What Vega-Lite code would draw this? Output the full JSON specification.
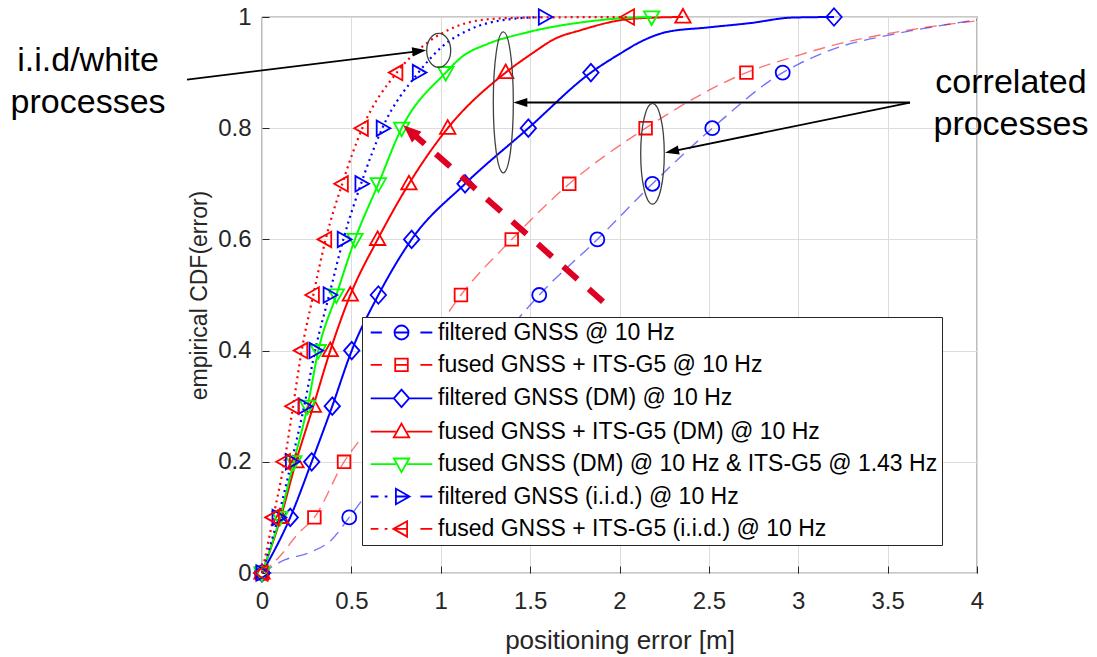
{
  "$schema": "https://vega.github.io/schema/vega-lite/v6.json",
  "width": 715,
  "height": 556,
  "autosize": {"type": "none"},
  "padding": {"left": 262, "top": 17, "right": 120, "bottom": 84},
  "background": "white",
  "config": {
    "view": {"stroke": "#262626", "strokeWidth": 1.2},
    "axis": {
      "labelFont": "Liberation Sans", "labelFontSize": 24, "labelColor": "#262626",
      "titleFont": "Liberation Sans", "titleFontSize": 23, "titleFontWeight": "normal", "titleColor": "#262626",
      "gridColor": "#dcdcdc", "gridWidth": 1, "tickColor": "#262626", "tickSize": -7, "tickWidth": 1,
      "domain": false, "labelFlush": false, "labelOverlap": false
    }
  },
  "datasets": {
    "curves": [
      {"s": "filtered GNSS @ 10 Hz", "x": 0, "y": 0, "m": 1},
      {"s": "filtered GNSS @ 10 Hz", "x": 0.13, "y": 0.024, "m": 0},
      {"s": "filtered GNSS @ 10 Hz", "x": 0.26, "y": 0.036, "m": 0},
      {"s": "filtered GNSS @ 10 Hz", "x": 0.39, "y": 0.06, "m": 0},
      {"s": "filtered GNSS @ 10 Hz", "x": 0.488, "y": 0.1, "m": 1},
      {"s": "filtered GNSS @ 10 Hz", "x": 0.558, "y": 0.13, "m": 0},
      {"s": "filtered GNSS @ 10 Hz", "x": 0.74, "y": 0.2, "m": 1},
      {"s": "filtered GNSS @ 10 Hz", "x": 1.0, "y": 0.3, "m": 1},
      {"s": "filtered GNSS @ 10 Hz", "x": 1.28, "y": 0.4, "m": 1},
      {"s": "filtered GNSS @ 10 Hz", "x": 1.443, "y": 0.461, "m": 0},
      {"s": "filtered GNSS @ 10 Hz", "x": 1.551, "y": 0.5, "m": 1},
      {"s": "filtered GNSS @ 10 Hz", "x": 1.876, "y": 0.6, "m": 1},
      {"s": "filtered GNSS @ 10 Hz", "x": 2.184, "y": 0.7, "m": 1},
      {"s": "filtered GNSS @ 10 Hz", "x": 2.519, "y": 0.8, "m": 1},
      {"s": "filtered GNSS @ 10 Hz", "x": 2.913, "y": 0.9, "m": 1},
      {"s": "filtered GNSS @ 10 Hz", "x": 3.0, "y": 0.915, "m": 0},
      {"s": "filtered GNSS @ 10 Hz", "x": 3.23, "y": 0.946, "m": 0},
      {"s": "filtered GNSS @ 10 Hz", "x": 3.5, "y": 0.967, "m": 0},
      {"s": "filtered GNSS @ 10 Hz", "x": 3.75, "y": 0.982, "m": 0},
      {"s": "filtered GNSS @ 10 Hz", "x": 4.0, "y": 0.995, "m": 0},

      {"s": "fused GNSS + ITS-G5 @ 10 Hz", "x": 0, "y": 0, "m": 1},
      {"s": "fused GNSS + ITS-G5 @ 10 Hz", "x": 0.1, "y": 0.03, "m": 0},
      {"s": "fused GNSS + ITS-G5 @ 10 Hz", "x": 0.2, "y": 0.07, "m": 0},
      {"s": "fused GNSS + ITS-G5 @ 10 Hz", "x": 0.293, "y": 0.1, "m": 1},
      {"s": "fused GNSS + ITS-G5 @ 10 Hz", "x": 0.459, "y": 0.2, "m": 1},
      {"s": "fused GNSS + ITS-G5 @ 10 Hz", "x": 0.56, "y": 0.245, "m": 0},
      {"s": "fused GNSS + ITS-G5 @ 10 Hz", "x": 0.68, "y": 0.3, "m": 1},
      {"s": "fused GNSS + ITS-G5 @ 10 Hz", "x": 0.9, "y": 0.4, "m": 1},
      {"s": "fused GNSS + ITS-G5 @ 10 Hz", "x": 1.113, "y": 0.5, "m": 1},
      {"s": "fused GNSS + ITS-G5 @ 10 Hz", "x": 1.397, "y": 0.6, "m": 1},
      {"s": "fused GNSS + ITS-G5 @ 10 Hz", "x": 1.719, "y": 0.7, "m": 1},
      {"s": "fused GNSS + ITS-G5 @ 10 Hz", "x": 2.146, "y": 0.8, "m": 1},
      {"s": "fused GNSS + ITS-G5 @ 10 Hz", "x": 2.71, "y": 0.9, "m": 1},
      {"s": "fused GNSS + ITS-G5 @ 10 Hz", "x": 3.0, "y": 0.931, "m": 0},
      {"s": "fused GNSS + ITS-G5 @ 10 Hz", "x": 3.23, "y": 0.952, "m": 0},
      {"s": "fused GNSS + ITS-G5 @ 10 Hz", "x": 3.5, "y": 0.97, "m": 0},
      {"s": "fused GNSS + ITS-G5 @ 10 Hz", "x": 3.75, "y": 0.983, "m": 0},
      {"s": "fused GNSS + ITS-G5 @ 10 Hz", "x": 4.0, "y": 0.993, "m": 0},

      {"s": "filtered GNSS (DM) @ 10 Hz", "x": 0, "y": 0, "m": 1},
      {"s": "filtered GNSS (DM) @ 10 Hz", "x": 0.158, "y": 0.1, "m": 1},
      {"s": "filtered GNSS (DM) @ 10 Hz", "x": 0.278, "y": 0.2, "m": 1},
      {"s": "filtered GNSS (DM) @ 10 Hz", "x": 0.393, "y": 0.3, "m": 1},
      {"s": "filtered GNSS (DM) @ 10 Hz", "x": 0.502, "y": 0.4, "m": 1},
      {"s": "filtered GNSS (DM) @ 10 Hz", "x": 0.651, "y": 0.5, "m": 1},
      {"s": "filtered GNSS (DM) @ 10 Hz", "x": 0.837, "y": 0.6, "m": 1},
      {"s": "filtered GNSS (DM) @ 10 Hz", "x": 1.136, "y": 0.7, "m": 1},
      {"s": "filtered GNSS (DM) @ 10 Hz", "x": 1.49, "y": 0.8, "m": 1},
      {"s": "filtered GNSS (DM) @ 10 Hz", "x": 1.84, "y": 0.9, "m": 1},
      {"s": "filtered GNSS (DM) @ 10 Hz", "x": 2.003, "y": 0.934, "m": 0},
      {"s": "filtered GNSS (DM) @ 10 Hz", "x": 2.115, "y": 0.955, "m": 0},
      {"s": "filtered GNSS (DM) @ 10 Hz", "x": 2.264, "y": 0.973, "m": 0},
      {"s": "filtered GNSS (DM) @ 10 Hz", "x": 2.488, "y": 0.981, "m": 0},
      {"s": "filtered GNSS (DM) @ 10 Hz", "x": 2.73, "y": 0.989, "m": 0},
      {"s": "filtered GNSS (DM) @ 10 Hz", "x": 2.97, "y": 0.999, "m": 0},
      {"s": "filtered GNSS (DM) @ 10 Hz", "x": 3.2, "y": 1.0, "m": 1},

      {"s": "fused GNSS + ITS-G5 (DM) @ 10 Hz", "x": 0, "y": 0, "m": 1},
      {"s": "fused GNSS + ITS-G5 (DM) @ 10 Hz", "x": 0.105, "y": 0.1, "m": 1},
      {"s": "fused GNSS + ITS-G5 (DM) @ 10 Hz", "x": 0.19, "y": 0.2, "m": 1},
      {"s": "fused GNSS + ITS-G5 (DM) @ 10 Hz", "x": 0.287, "y": 0.3, "m": 1},
      {"s": "fused GNSS + ITS-G5 (DM) @ 10 Hz", "x": 0.382, "y": 0.4, "m": 1},
      {"s": "fused GNSS + ITS-G5 (DM) @ 10 Hz", "x": 0.494, "y": 0.5, "m": 1},
      {"s": "fused GNSS + ITS-G5 (DM) @ 10 Hz", "x": 0.647, "y": 0.6, "m": 1},
      {"s": "fused GNSS + ITS-G5 (DM) @ 10 Hz", "x": 0.822, "y": 0.7, "m": 1},
      {"s": "fused GNSS + ITS-G5 (DM) @ 10 Hz", "x": 1.039, "y": 0.8, "m": 1},
      {"s": "fused GNSS + ITS-G5 (DM) @ 10 Hz", "x": 1.363, "y": 0.9, "m": 1},
      {"s": "fused GNSS + ITS-G5 (DM) @ 10 Hz", "x": 1.509, "y": 0.934, "m": 0},
      {"s": "fused GNSS + ITS-G5 (DM) @ 10 Hz", "x": 1.64, "y": 0.961, "m": 0},
      {"s": "fused GNSS + ITS-G5 (DM) @ 10 Hz", "x": 1.78, "y": 0.976, "m": 0},
      {"s": "fused GNSS + ITS-G5 (DM) @ 10 Hz", "x": 2.02, "y": 0.995, "m": 0},
      {"s": "fused GNSS + ITS-G5 (DM) @ 10 Hz", "x": 2.2, "y": 0.999, "m": 0},
      {"s": "fused GNSS + ITS-G5 (DM) @ 10 Hz", "x": 2.355, "y": 1.0, "m": 1},

      {"s": "fused GNSS (DM) @ 10 Hz & ITS-G5 @ 1.43 Hz", "x": 0, "y": 0, "m": 1},
      {"s": "fused GNSS (DM) @ 10 Hz & ITS-G5 @ 1.43 Hz", "x": 0.1, "y": 0.1, "m": 1},
      {"s": "fused GNSS (DM) @ 10 Hz & ITS-G5 @ 1.43 Hz", "x": 0.178, "y": 0.2, "m": 1},
      {"s": "fused GNSS (DM) @ 10 Hz & ITS-G5 @ 1.43 Hz", "x": 0.255, "y": 0.3, "m": 1},
      {"s": "fused GNSS (DM) @ 10 Hz & ITS-G5 @ 1.43 Hz", "x": 0.315, "y": 0.4, "m": 1},
      {"s": "fused GNSS (DM) @ 10 Hz & ITS-G5 @ 1.43 Hz", "x": 0.416, "y": 0.5, "m": 1},
      {"s": "fused GNSS (DM) @ 10 Hz & ITS-G5 @ 1.43 Hz", "x": 0.52, "y": 0.6, "m": 1},
      {"s": "fused GNSS (DM) @ 10 Hz & ITS-G5 @ 1.43 Hz", "x": 0.651, "y": 0.7, "m": 1},
      {"s": "fused GNSS (DM) @ 10 Hz & ITS-G5 @ 1.43 Hz", "x": 0.781, "y": 0.8, "m": 1},
      {"s": "fused GNSS (DM) @ 10 Hz & ITS-G5 @ 1.43 Hz", "x": 1.028, "y": 0.9, "m": 1},
      {"s": "fused GNSS (DM) @ 10 Hz & ITS-G5 @ 1.43 Hz", "x": 1.117, "y": 0.928, "m": 0},
      {"s": "fused GNSS (DM) @ 10 Hz & ITS-G5 @ 1.43 Hz", "x": 1.266, "y": 0.952, "m": 0},
      {"s": "fused GNSS (DM) @ 10 Hz & ITS-G5 @ 1.43 Hz", "x": 1.453, "y": 0.97, "m": 0},
      {"s": "fused GNSS (DM) @ 10 Hz & ITS-G5 @ 1.43 Hz", "x": 1.64, "y": 0.983, "m": 0},
      {"s": "fused GNSS (DM) @ 10 Hz & ITS-G5 @ 1.43 Hz", "x": 1.78, "y": 0.99, "m": 0},
      {"s": "fused GNSS (DM) @ 10 Hz & ITS-G5 @ 1.43 Hz", "x": 2.02, "y": 0.998, "m": 0},
      {"s": "fused GNSS (DM) @ 10 Hz & ITS-G5 @ 1.43 Hz", "x": 2.18, "y": 1.0, "m": 1},

      {"s": "filtered GNSS (i.i.d.) @ 10 Hz", "x": 0, "y": 0, "m": 1},
      {"s": "filtered GNSS (i.i.d.) @ 10 Hz", "x": 0.09, "y": 0.1, "m": 1},
      {"s": "filtered GNSS (i.i.d.) @ 10 Hz", "x": 0.165, "y": 0.2, "m": 1},
      {"s": "filtered GNSS (i.i.d.) @ 10 Hz", "x": 0.236, "y": 0.3, "m": 1},
      {"s": "filtered GNSS (i.i.d.) @ 10 Hz", "x": 0.297, "y": 0.4, "m": 1},
      {"s": "filtered GNSS (i.i.d.) @ 10 Hz", "x": 0.376, "y": 0.5, "m": 1},
      {"s": "filtered GNSS (i.i.d.) @ 10 Hz", "x": 0.455, "y": 0.6, "m": 1},
      {"s": "filtered GNSS (i.i.d.) @ 10 Hz", "x": 0.554, "y": 0.7, "m": 1},
      {"s": "filtered GNSS (i.i.d.) @ 10 Hz", "x": 0.673, "y": 0.8, "m": 1},
      {"s": "filtered GNSS (i.i.d.) @ 10 Hz", "x": 0.875, "y": 0.9, "m": 1},
      {"s": "filtered GNSS (i.i.d.) @ 10 Hz", "x": 1.005, "y": 0.946, "m": 0},
      {"s": "filtered GNSS (i.i.d.) @ 10 Hz", "x": 1.173, "y": 0.979, "m": 0},
      {"s": "filtered GNSS (i.i.d.) @ 10 Hz", "x": 1.36, "y": 0.995, "m": 0},
      {"s": "filtered GNSS (i.i.d.) @ 10 Hz", "x": 1.58, "y": 1.0, "m": 1},

      {"s": "fused GNSS + ITS-G5 (i.i.d.) @ 10 Hz", "x": 0, "y": 0, "m": 1},
      {"s": "fused GNSS + ITS-G5 (i.i.d.) @ 10 Hz", "x": 0.063, "y": 0.1, "m": 1},
      {"s": "fused GNSS + ITS-G5 (i.i.d.) @ 10 Hz", "x": 0.125, "y": 0.2, "m": 1},
      {"s": "fused GNSS + ITS-G5 (i.i.d.) @ 10 Hz", "x": 0.174, "y": 0.3, "m": 1},
      {"s": "fused GNSS + ITS-G5 (i.i.d.) @ 10 Hz", "x": 0.222, "y": 0.4, "m": 1},
      {"s": "fused GNSS + ITS-G5 (i.i.d.) @ 10 Hz", "x": 0.287, "y": 0.5, "m": 1},
      {"s": "fused GNSS + ITS-G5 (i.i.d.) @ 10 Hz", "x": 0.356, "y": 0.6, "m": 1},
      {"s": "fused GNSS + ITS-G5 (i.i.d.) @ 10 Hz", "x": 0.449, "y": 0.7, "m": 1},
      {"s": "fused GNSS + ITS-G5 (i.i.d.) @ 10 Hz", "x": 0.561, "y": 0.8, "m": 1},
      {"s": "fused GNSS + ITS-G5 (i.i.d.) @ 10 Hz", "x": 0.754, "y": 0.9, "m": 1},
      {"s": "fused GNSS + ITS-G5 (i.i.d.) @ 10 Hz", "x": 0.93, "y": 0.955, "m": 0},
      {"s": "fused GNSS + ITS-G5 (i.i.d.) @ 10 Hz", "x": 1.08, "y": 0.982, "m": 0},
      {"s": "fused GNSS + ITS-G5 (i.i.d.) @ 10 Hz", "x": 1.265, "y": 0.996, "m": 0},
      {"s": "fused GNSS + ITS-G5 (i.i.d.) @ 10 Hz", "x": 1.5, "y": 0.999, "m": 0},
      {"s": "fused GNSS + ITS-G5 (i.i.d.) @ 10 Hz", "x": 2.05, "y": 1.0, "m": 1}
    ]
  },
  "encoding": {
    "x": {"field": "x", "type": "quantitative", "scale": {"domain": [0, 4], "nice": false, "zero": false},
      "axis": {"values": [0, 0.5, 1, 1.5, 2, 2.5, 3, 3.5, 4], "format": "~g", "title": "positioning error [m]", "labelPadding": 23, "titlePadding": 14, "titleFontSize": 26}},
    "y": {"field": "y", "type": "quantitative", "scale": {"domain": [0, 1], "nice": false, "zero": false},
      "axis": {"values": [0, 0.2, 0.4, 0.6, 0.8, 1], "format": "~g", "title": "empirical CDF(error)", "labelPadding": 18, "titlePadding": 6}}
  },
  "resolve": {"scale": {"color": "independent", "shape": "independent", "strokeDash": "independent", "strokeWidth": "independent", "strokeOpacity": "independent"}},
  "layer": [
    {
      "data": {"name": "curves"},
      "mark": {"type": "line", "interpolate": "monotone"},
      "encoding": {
        "detail": {"field": "s"},
        "color": {"field": "s", "type": "nominal", "legend": null,
          "scale": {"domain": ["filtered GNSS @ 10 Hz", "fused GNSS + ITS-G5 @ 10 Hz", "filtered GNSS (DM) @ 10 Hz", "fused GNSS + ITS-G5 (DM) @ 10 Hz", "fused GNSS (DM) @ 10 Hz & ITS-G5 @ 1.43 Hz", "filtered GNSS (i.i.d.) @ 10 Hz", "fused GNSS + ITS-G5 (i.i.d.) @ 10 Hz"],
            "range": ["#0000ff", "#ff0000", "#0000ff", "#ff0000", "#00ff00", "#0000ff", "#ff0000"]}},
        "strokeDash": {"field": "s", "type": "nominal", "legend": null,
          "scale": {"domain": ["filtered GNSS @ 10 Hz", "fused GNSS + ITS-G5 @ 10 Hz", "filtered GNSS (DM) @ 10 Hz", "fused GNSS + ITS-G5 (DM) @ 10 Hz", "fused GNSS (DM) @ 10 Hz & ITS-G5 @ 1.43 Hz", "filtered GNSS (i.i.d.) @ 10 Hz", "fused GNSS + ITS-G5 (i.i.d.) @ 10 Hz"],
            "range": [[12, 7], [12, 7], [1, 0], [1, 0], [1, 0], [2, 4], [2, 4]]}},
        "strokeWidth": {"field": "s", "type": "nominal", "legend": null,
          "scale": {"type": "ordinal", "domain": ["filtered GNSS @ 10 Hz", "fused GNSS + ITS-G5 @ 10 Hz", "filtered GNSS (DM) @ 10 Hz", "fused GNSS + ITS-G5 (DM) @ 10 Hz", "fused GNSS (DM) @ 10 Hz & ITS-G5 @ 1.43 Hz", "filtered GNSS (i.i.d.) @ 10 Hz", "fused GNSS + ITS-G5 (i.i.d.) @ 10 Hz"],
            "range": [1.4, 1.4, 2, 2, 2, 2.2, 2.2]}},
        "strokeOpacity": {"field": "s", "type": "nominal", "legend": null,
          "scale": {"type": "ordinal", "domain": ["filtered GNSS @ 10 Hz", "fused GNSS + ITS-G5 @ 10 Hz", "filtered GNSS (DM) @ 10 Hz", "fused GNSS + ITS-G5 (DM) @ 10 Hz", "fused GNSS (DM) @ 10 Hz & ITS-G5 @ 1.43 Hz", "filtered GNSS (i.i.d.) @ 10 Hz", "fused GNSS + ITS-G5 (i.i.d.) @ 10 Hz"],
            "range": [0.55, 0.55, 1, 1, 1, 1, 1]}}
      }
    },
    {
      "data": {"name": "curves"},
      "transform": [{"filter": "datum.m == 1"}],
      "mark": {"type": "point", "filled": false, "strokeWidth": 1.8, "size": 196, "opacity": 1},
      "encoding": {
        "color": {"field": "s", "type": "nominal", "legend": null,
          "scale": {"domain": ["filtered GNSS @ 10 Hz", "fused GNSS + ITS-G5 @ 10 Hz", "filtered GNSS (DM) @ 10 Hz", "fused GNSS + ITS-G5 (DM) @ 10 Hz", "fused GNSS (DM) @ 10 Hz & ITS-G5 @ 1.43 Hz", "filtered GNSS (i.i.d.) @ 10 Hz", "fused GNSS + ITS-G5 (i.i.d.) @ 10 Hz"],
            "range": ["#0000ff", "#ff0000", "#0000ff", "#ff0000", "#00ff00", "#0000ff", "#ff0000"]}},
        "shape": {"field": "s", "type": "nominal", "legend": null,
          "scale": {"domain": ["filtered GNSS @ 10 Hz", "fused GNSS + ITS-G5 @ 10 Hz", "filtered GNSS (DM) @ 10 Hz", "fused GNSS + ITS-G5 (DM) @ 10 Hz", "fused GNSS (DM) @ 10 Hz & ITS-G5 @ 1.43 Hz", "filtered GNSS (i.i.d.) @ 10 Hz", "fused GNSS + ITS-G5 (i.i.d.) @ 10 Hz"],
            "range": ["circle", "M-0.9,-0.9H0.9V0.9H-0.9Z", "M0,-1.25L1.1,0L0,1.25L-1.1,0Z", "M0,-1.15L1.1,0.8H-1.1Z", "M0,1.15L1.1,-0.8H-1.1Z", "M1.15,0L-0.8,-1.1V1.1Z", "M-1.15,0L0.8,-1.1V1.1Z"]}}
      }
    },
    {
      "data": {"values": [
        {"x": 1.9077, "y": 0.488, "x2": 0.828, "y2": 0.7948}
      ]},
      "mark": {"type": "rule", "color": "#dd0022", "strokeWidth": 6, "strokeDash": [19, 15]},
      "encoding": {"x2": {"field": "x2"}, "y2": {"field": "y2"}}
    },
    {
      "data": {"values": [{"x": 0.828, "y": 0.7948}]},
      "mark": {"type": "point", "filled": true, "color": "#dd0022", "opacity": 1, "shape": "M1,0L-1,-0.8L-1,0.8Z", "size": 324, "angle": 221.5, "strokeWidth": 0},
      "encoding": {}
    },
    {
      "data": {"values": [
        {"x": -0.4196, "y": 0.8875, "x2": 0.8797, "y2": 0.9388},
        {"x": 3.6252, "y": 0.8462, "x2": 1.445, "y2": 0.8462},
        {"x": 3.6252, "y": 0.8462, "x2": 2.293, "y2": 0.7583}
      ]},
      "mark": {"type": "rule", "color": "black", "strokeWidth": 1.8},
      "encoding": {"x2": {"field": "x2"}, "y2": {"field": "y2"}}
    },
    {
      "data": {"values": [{"x": 0.8797, "y": 0.9388}]},
      "mark": {"type": "point", "filled": true, "color": "black", "opacity": 1, "shape": "M1,0L-1,-0.65L-1,0.65Z", "size": 196, "angle": -7, "strokeWidth": 0},
      "encoding": {}
    },
    {
      "data": {"values": [{"x": 1.445, "y": 0.8462}]},
      "mark": {"type": "point", "filled": true, "color": "black", "opacity": 1, "shape": "M1,0L-1,-0.65L-1,0.65Z", "size": 196, "angle": 180, "strokeWidth": 0},
      "encoding": {}
    },
    {
      "data": {"values": [{"x": 2.293, "y": 0.7583}]},
      "mark": {"type": "point", "filled": true, "color": "black", "opacity": 1, "shape": "M1,0L-1,-0.65L-1,0.65Z", "size": 196, "angle": 168.5, "strokeWidth": 0},
      "encoding": {}
    },
    {
      "data": {"values": [{"x": 0.9885, "y": 0.9398}]},
      "mark": {"type": "point", "filled": false, "color": "#404040", "opacity": 1, "strokeWidth": 1.3, "shape": "M-0.706,0A0.706,1,0,1,0,0.706,0A0.706,1,0,1,0,-0.706,0Z", "size": 1156},
      "encoding": {}
    },
    {
      "data": {"values": [{"x": 1.35, "y": 0.8465}]},
      "mark": {"type": "point", "filled": false, "color": "#404040", "opacity": 1, "strokeWidth": 1.3, "shape": "M-0.142,0A0.142,1,0,1,0,0.142,0A0.142,1,0,1,0,-0.142,0Z", "size": 19881},
      "encoding": {}
    },
    {
      "data": {"values": [{"x": 2.1846, "y": 0.754}]},
      "mark": {"type": "point", "filled": false, "color": "#404040", "opacity": 1, "strokeWidth": 1.3, "shape": "M-0.234,0A0.234,1,0,1,0,0.234,0A0.234,1,0,1,0,-0.234,0Z", "size": 10140},
      "encoding": {}
    },
    {
      "data": {"values": [
        {"x": -0.973, "y": 0.921, "t": "i.i.d/white\nprocesses"},
        {"x": 4.19, "y": 0.881, "t": "correlated\nprocesses"}
      ]},
      "mark": {"type": "text", "font": "Liberation Sans", "fontSize": 34, "lineBreak": "\n", "lineHeight": 42, "align": "center", "baseline": "middle", "color": "black"},
      "encoding": {"text": {"field": "t"}}
    },
    {
      "data": {"name": "curves"},
      "transform": [{"filter": "datum.m == 1 && datum.y == 0"}],
      "mark": {"type": "point", "filled": false, "opacity": 0, "size": 196},
      "encoding": {
        "color": {"field": "s", "type": "nominal",
          "scale": {"domain": ["filtered GNSS @ 10 Hz", "fused GNSS + ITS-G5 @ 10 Hz", "filtered GNSS (DM) @ 10 Hz", "fused GNSS + ITS-G5 (DM) @ 10 Hz", "fused GNSS (DM) @ 10 Hz & ITS-G5 @ 1.43 Hz", "filtered GNSS (i.i.d.) @ 10 Hz", "fused GNSS + ITS-G5 (i.i.d.) @ 10 Hz"],
            "range": ["#0000ff", "#ff0000", "#0000ff", "#ff0000", "#00ff00", "#0000ff", "#ff0000"]},
          "legend": {"orient": "none", "legendX": 100, "legendY": 300, "title": null, "direction": "vertical",
            "labelFont": "Liberation Sans", "labelFontSize": 23, "labelColor": "black", "labelLimit": 0,
            "symbolSize": 196, "symbolStrokeWidth": 1.8, "symbolOffset": 24, "labelOffset": 25, "rowPadding": 8.4,
            "padding": 4, "strokeColor": "#262626", "fillColor": "white",
            "encode": {"symbols": {"update": {"opacity": {"value": 1}}}}}},
        "shape": {"field": "s", "type": "nominal",
          "scale": {"domain": ["filtered GNSS @ 10 Hz", "fused GNSS + ITS-G5 @ 10 Hz", "filtered GNSS (DM) @ 10 Hz", "fused GNSS + ITS-G5 (DM) @ 10 Hz", "fused GNSS (DM) @ 10 Hz & ITS-G5 @ 1.43 Hz", "filtered GNSS (i.i.d.) @ 10 Hz", "fused GNSS + ITS-G5 (i.i.d.) @ 10 Hz"],
            "range": [
              "M-4.4,0H-2.8M-1,0H1M2.7,0H4.4M1,0A1,1,0,1,1,-1,0A1,1,0,1,1,1,0",
              "M-4.4,0H-2.8M-0.9,0H0.9M2.7,0H4.4M-0.9,-0.9H0.9V0.9H-0.9Z",
              "M-4.4,0H-1.1M1.1,0H4.4M0,-1.25L1.1,0L0,1.25L-1.1,0Z",
              "M-4.4,0H-0.8M0.8,0H4.4M0,-1.15L1.1,0.8H-1.1Z",
              "M-4.4,0H-0.8M0.8,0H4.4M0,1.15L1.1,-0.8H-1.1Z",
              "M-4.4,0H-3.3M-2.4,0H-2.0M-0.8,0H1.15M2.7,0H4.4M1.15,0L-0.8,-1.1V1.1Z",
              "M-4.4,0H-3.3M-2.4,0H-2.0M-1.15,0H0.8M2.7,0H4.4M-1.15,0L0.8,-1.1V1.1Z"
            ]}}
      }
    }
  ]
}
